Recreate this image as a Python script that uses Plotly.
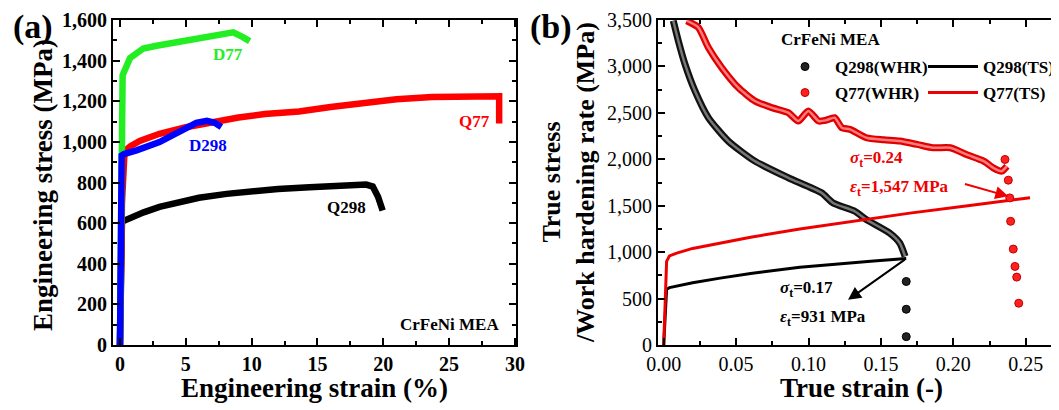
import plotly.graph_objects as go

# ---------------- data: panel (a) engineering stress-strain ----------------
q298_x = [0.0, 0.15, 0.3, 1.0, 1.8, 3.0, 4.3, 6.0, 8.1, 10.0, 12.0, 14.4, 16.5, 18.7, 19.2, 19.6, 19.95]
q298_y = [0, 604, 612, 635, 653, 680, 703, 725, 744, 757, 768, 777, 784, 790, 780, 730, 662]

q77_x = [0.0, 0.15, 0.35, 0.8, 1.5, 3.0, 5.0, 6.8, 9.0, 11.0, 13.6, 16.0, 18.7, 21.0, 23.7, 26.0, 28.5, 28.8, 28.8]
q77_y = [0, 700, 955, 979, 1005, 1040, 1072, 1097, 1120, 1137, 1150, 1172, 1196, 1210, 1221, 1226, 1230, 1225, 1090]

d77_x = [0.0, 0.13, 0.2, 0.76, 1.77, 2.78, 4.3, 5.8, 7.6, 8.6, 9.3, 9.85]
d77_y = [0, 1000, 1328, 1412, 1460, 1473, 1490, 1506, 1522, 1539, 1517, 1496]

d298_x = [0.0, 0.13, 0.3, 1.26, 3.0, 4.8, 5.8, 6.6, 7.2, 7.7]
d298_y = [0, 933, 940, 958, 999, 1065, 1094, 1104, 1094, 1073]

a_xticks = [0, 5, 10, 15, 20, 25, 30]
a_yticks = [0, 200, 400, 600, 800, 1000, 1200, 1400, 1600]

# ---------------- data: panel (b) true stress / work hardening rate ----------------
q298_ts_x = [0.0, 0.002, 0.004, 0.01, 0.02, 0.039, 0.06, 0.094, 0.12, 0.145, 0.1675]
q298_ts_y = [0, 600, 618, 640, 670, 720, 770, 838, 875, 905, 931]

q77_ts_x = [0.0, 0.002, 0.004, 0.009, 0.02, 0.039, 0.06, 0.094, 0.13, 0.17, 0.21, 0.253]
q77_ts_y = [0, 900, 960, 990, 1040, 1098, 1160, 1250, 1330, 1420, 1500, 1585]

q298_whr_x = [0.0066, 0.0101, 0.0147, 0.0216, 0.0308, 0.0446, 0.063, 0.086, 0.109, 0.117,
              0.132, 0.140, 0.156, 0.163, 0.1667]
q298_whr_y = [3492, 3276, 3025, 2736, 2449, 2196, 1980, 1801, 1639, 1529,
              1440, 1350, 1206, 1098, 954]
q298_whr_tail_x = [0.1675, 0.1675, 0.1675]
q298_whr_tail_y = [684, 385, 90]

q77_whr_x = [0.0159, 0.0239, 0.0308, 0.040, 0.0515, 0.063, 0.0746, 0.086, 0.093, 0.0999,
             0.107, 0.112, 0.118, 0.123, 0.1287, 0.140, 0.152, 0.163, 0.175, 0.186,
             0.198, 0.209, 0.221, 0.2276, 0.2334, 0.237]
q77_whr_y = [3492, 3420, 3204, 2988, 2772, 2628, 2556, 2502, 2412, 2520,
             2412, 2420, 2448, 2340, 2322, 2232, 2210, 2196, 2160, 2124,
             2124, 2052, 1980, 1908, 1872, 1926]
q77_whr_tail_x = [0.2357, 0.238, 0.239, 0.2396, 0.2414, 0.2426, 0.2438, 0.2452]
q77_whr_tail_y = [1998, 1775, 1584, 1332, 1033, 846, 731, 450]

b_xticks = [0.00, 0.05, 0.10, 0.15, 0.20, 0.25]
b_yticks = [0, 500, 1000, 1500, 2000, 2500, 3000, 3500]

SERIF = "Liberation Serif, Times New Roman, serif"

fig = go.Figure()

# panel (a)
for xs, ys, col in [(q298_x, q298_y, "black"), (q77_x, q77_y, "#ff0000"),
                    (d77_x, d77_y, "#22ee22"), (d298_x, d298_y, "#0000ff")]:
    fig.add_trace(go.Scatter(x=xs, y=ys, mode="lines", line=dict(color=col, width=6.5),
                             showlegend=False, xaxis="x", yaxis="y", hoverinfo="skip"))

# panel (b) dense work-hardening bands (outer edge + inner highlight)
for xs, ys, outer, inner in [(q298_whr_x, q298_whr_y, "#111111", "#777777"),
                             (q77_whr_x, q77_whr_y, "#e00000", "#ff7a7a")]:
    fig.add_trace(go.Scatter(x=xs, y=ys, mode="lines",
                             line=dict(color=outer, width=7, shape="spline", smoothing=0.6),
                             showlegend=False, xaxis="x2", yaxis="y2", hoverinfo="skip"))
    fig.add_trace(go.Scatter(x=xs, y=ys, mode="lines",
                             line=dict(color=inner, width=2.5, shape="spline", smoothing=0.6),
                             showlegend=False, xaxis="x2", yaxis="y2", hoverinfo="skip"))

fig.add_trace(go.Scatter(x=q298_ts_x, y=q298_ts_y, mode="lines", name="Q298(TS)",
                         line=dict(color="black", width=3), legend="legend", legendrank=2,
                         xaxis="x2", yaxis="y2"))
fig.add_trace(go.Scatter(x=q77_ts_x, y=q77_ts_y, mode="lines", name="Q77(TS)",
                         line=dict(color="#ee0000", width=3), legend="legend2", legendrank=2,
                         xaxis="x2", yaxis="y2"))
fig.add_trace(go.Scatter(x=q298_whr_tail_x, y=q298_whr_tail_y, mode="markers", name="Q298(WHR)",
                         marker=dict(size=8, color="#222222", line=dict(color="black", width=1)),
                         legend="legend", legendrank=1, xaxis="x2", yaxis="y2"))
fig.add_trace(go.Scatter(x=q77_whr_tail_x, y=q77_whr_tail_y, mode="markers", name="Q77(WHR)",
                         marker=dict(size=8, color="#ff2020", line=dict(color="#c00000", width=1)),
                         legend="legend2", legendrank=1, xaxis="x2", yaxis="y2"))

W, H = 1059, 410
OFF = 8  # page body margin: figure is drawn 8px right/down of the window corner
def px_x(p): return (p - OFF) / W
def px_y(p): return 1 - (p - OFF) / H

ydom = [px_y(345), px_y(20)]

axis_common = dict(showline=True, linecolor="black", linewidth=2, mirror="ticks",
                   ticks="inside", ticklen=7, tickwidth=1.5, tickcolor="black",
                   showgrid=False, zeroline=False, automargin=False)

leg_common = dict(orientation="h", xanchor="left", yanchor="middle",
                  bgcolor="rgba(0,0,0,0)", entrywidthmode="pixels", entrywidth=83,
                  font=dict(family=SERIF, size=17, weight="bold"), itemwidth=50,
                  traceorder="normal")

# panel (b) x range: 0 at screen px 663.7, 1448 px per unit; domain right edge at fig px 1059
b_xmax = (W + OFF - 663.7) / 1448.0
b_xmin = (658 - 663.7) / 1448.0

fig.update_layout(
    width=W, height=H, margin=dict(l=0, r=0, t=0, b=0, pad=0, autoexpand=False),
    paper_bgcolor="white", plot_bgcolor="white",
    font=dict(family=SERIF, color="black"),
    xaxis=dict(domain=[px_x(113), px_x(516)], range=[-0.53, 30.08], anchor="y",
               tickvals=a_xticks, ticktext=[str(v) for v in a_xticks],
               tickfont=dict(family=SERIF, size=20, weight="bold"),
               minor=dict(ticks="inside", ticklen=4, dtick=2.5, tick0=0, tickcolor="black", tickwidth=1.5),
               **axis_common),
    yaxis=dict(domain=ydom, range=[0, 1600], anchor="x",
               tickvals=a_yticks, ticktext=[f"{v:,}" for v in a_yticks],
               tickfont=dict(family=SERIF, size=20, weight="bold"),
               minor=dict(ticks="inside", ticklen=4, dtick=100, tick0=0, tickcolor="black", tickwidth=1.5),
               **axis_common),
    xaxis2=dict(domain=[px_x(658), 1.0], range=[b_xmin, b_xmax], anchor="y2",
                tickvals=b_xticks, ticktext=[f"{v:.2f}" for v in b_xticks],
                tickfont=dict(family=SERIF, size=20),
                minor=dict(ticks="inside", ticklen=4, dtick=0.025, tick0=0, tickcolor="black", tickwidth=1.5),
                **axis_common),
    yaxis2=dict(domain=ydom, range=[0, 3500], anchor="x2",
                tickvals=b_yticks, ticktext=[f"{v:,}" for v in b_yticks],
                tickfont=dict(family=SERIF, size=20),
                minor=dict(ticks="inside", ticklen=4, dtick=250, tick0=0, tickcolor="black", tickwidth=1.5),
                **axis_common),
    legend=dict(x=px_x(775), y=px_y(67), **leg_common),
    legend2=dict(x=px_x(775), y=px_y(93), **leg_common),
)

ann = []
def label(text, x, y, xref, yref, size=17, color="black", bold=True, xanchor="center", angle=0):
    ann.append(dict(text=text, x=x, y=y, xref=xref, yref=yref, showarrow=False,
                    xanchor=xanchor, yanchor="middle", textangle=angle,
                    font=dict(family=SERIF, size=size, color=color,
                              weight="bold" if bold else "normal")))

# panel letters
label("(a)", px_x(33), px_y(27), "paper", "paper", size=34)
label("(b)", px_x(551), px_y(27), "paper", "paper", size=34)
# axis titles
label("Engineering strain (%)", px_x(314), px_y(388), "paper", "paper", size=27)
label("Engineering stress (MPa)", px_x(43), px_y(185), "paper", "paper", size=27, angle=-90)
label("True strain (-)", px_x(861), px_y(388), "paper", "paper", size=27)
label("True stress<br>/Work hardening rate (MPa)", px_x(569), px_y(183), "paper", "paper", size=26, angle=-90)
# panel (a) curve labels
label("D77", 8.2, 1432, "x", "y", color="#22ee22")
label("D298", 6.7, 983, "x", "y", color="#0000ff")
label("Q77", 26.9, 1101, "x", "y", color="#ff0000")
label("Q298", 17.2, 677, "x", "y")
label("CrFeNi MEA", 25.05, 99, "x", "y")
# panel (b) texts
label("CrFeNi MEA", px_x(830), px_y(40), "paper", "paper")
label("<i>σ</i><sub>t</sub>=0.24", 0.1273, 1998, "x2", "y2", color="#ee0000", xanchor="left")
label("<i>ε</i><sub>t</sub>=1,547 MPa", 0.1273, 1696, "x2", "y2", color="#ee0000", xanchor="left")
label("<i>σ</i><sub>t</sub>=0.17", 0.079, 605, "x2", "y2", xanchor="left")
label("<i>ε</i><sub>t</sub>=931 MPa", 0.079, 292, "x2", "y2", xanchor="left")

# arrows
ann.append(dict(x=0.1273, y=486, ax=0.1675, ay=931, xref="x2", yref="y2", axref="x2", ayref="y2",
                text="", showarrow=True, arrowhead=2, arrowsize=1.3, arrowwidth=2, arrowcolor="black"))
ann.append(dict(x=0.238, y=1601, ax=0.207, ay=1739, xref="x2", yref="y2", axref="x2", ayref="y2",
                text="", showarrow=True, arrowhead=2, arrowsize=1.3, arrowwidth=2, arrowcolor="#ee0000"))

fig.update_layout(annotations=ann)
fig.write_html("out.html")
